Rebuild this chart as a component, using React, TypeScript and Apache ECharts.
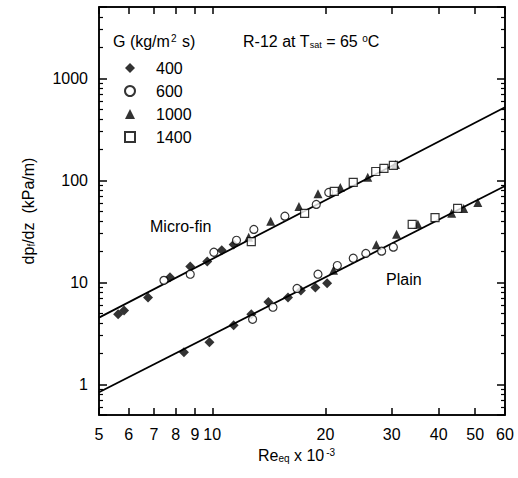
import React, { useEffect, useRef } from "react";
import * as echarts from "echarts";

const FONT = "'Liberation Sans', Arial, Helvetica, sans-serif";

// Micro-fin tube data (Re_eq x 10^-3, dp/dz kPa/m)
const mf400X = [5.62, 5.83, 6.75, 7.72, 8.74, 9.7, 10.6, 11.4];
const mf400Y = [4.86, 5.3, 7.1, 11.2, 14.3, 16.0, 20.6, 23.5];
const mf600X = [7.44, 8.74, 10.1, 11.6, 12.9, 15.6, 18.9, 20.4];
const mf600Y = [10.45, 12.0, 19.7, 25.8, 33, 44.5, 58, 76];
const mf1000X = [12.5, 14.3, 17.0, 19.1, 21.9, 25.9, 30.7];
const mf1000Y = [27.6, 39.6, 55.5, 74, 85, 107, 143];
const mf1400X = [12.7, 17.6, 21.1, 23.7, 27.2, 28.6, 30.3];
const mf1400Y = [25, 47.4, 78, 95.6, 122, 131, 140];

// Plain tube data
const pl400X = [8.41, 9.83, 11.4, 12.7, 14.1, 15.9, 17.2, 18.8, 20.2];
const pl400Y = [2.06, 2.58, 3.79, 4.86, 6.4, 7.1, 8.3, 8.9, 9.8];
const pl600X = [12.8, 14.5, 16.8, 19.1, 21.5, 23.7, 25.6, 28.2, 30.3];
const pl600Y = [4.34, 5.7, 8.7, 12.0, 14.6, 17.2, 19.2, 20.2, 22.1];
const pl1000X = [21.0, 27.3, 30.9, 35.2, 43.3, 46.6, 50.8];
const pl1000Y = [13.1, 23.3, 29.5, 37, 47.5, 53, 60.7];
const pl1400X = [34.0, 39.1, 44.9];
const pl1400Y = [37, 43, 53];

// Correlation lines
const fitX = [5, 60];
const microFinFit = [4.5, 520];
const plainFit = [0.835, 88];

// Tick labels
const xLabels = [5, 6, 7, 8, 9, 10, 20, 30, 40, 50, 60];
const yLabels = [1, 10, 100, 1000];

const groups = ["400", "600", "1000", "1400"];

const X_MIN = 5;
const X_MAX = 60;
const Y_MIN = 0.5;
const Y_MAX = 5000;

const zip = (xs: number[], ys: number[]) => xs.map((x, i) => [x, ys[i]]);

export default function App() {
  const ref = useRef<HTMLDivElement>(null);
  useEffect(() => {
    if (!ref.current) return;
    const chart = echarts.init(ref.current, null, { renderer: "svg" });

    const markerStyles: Record<string, any> = {
      "400": { symbol: "diamond", symbolSize: 10, itemStyle: { color: "#000" } },
      "600": {
        symbol: "circle",
        symbolSize: 8,
        itemStyle: { color: "#fff", borderColor: "#000", borderWidth: 1.2 },
      },
      "1000": { symbol: "triangle", symbolSize: 9, itemStyle: { color: "#000" } },
      "1400": {
        symbol: "rect",
        symbolSize: 8,
        itemStyle: { color: "#fff", borderColor: "#000", borderWidth: 1.2 },
      },
    };

    const mfData: Record<string, number[][]> = {
      "400": zip(mf400X, mf400Y),
      "600": zip(mf600X, mf600Y),
      "1000": zip(mf1000X, mf1000Y),
      "1400": zip(mf1400X, mf1400Y),
    };
    const plData: Record<string, number[][]> = {
      "400": zip(pl400X, pl400Y),
      "600": zip(pl600X, pl600Y),
      "1000": zip(pl1000X, pl1000Y),
      "1400": zip(pl1400X, pl1400Y),
    };

    const scatterSeries: any[] = [];
    groups.forEach((g) => {
      [mfData[g], plData[g]].forEach((d) => {
        scatterSeries.push({
          type: "scatter",
          name: g,
          data: d,
          z: 5,
          ...markerStyles[g],
        });
      });
    });

    const axisLine = { show: true, lineStyle: { color: "#000", width: 1.5 } };

    const makeX = (position: string, showLabels: boolean) => ({
      type: "log",
      logBase: 10,
      min: X_MIN,
      max: X_MAX,
      position,
      splitLine: { show: false },
      minorSplitLine: { show: false },
      axisLine,
      axisTick: {
        show: true,
        inside: true,
        length: 7,
        lineStyle: { color: "#000", width: 1.5 },
      },
      minorTick: {
        show: true,
        splitNumber: 9,
        length: 7,
        lineStyle: { color: "#000", width: 1.5 },
      },
      axisLabel: showLabels
        ? {
            show: true,
            customValues: xLabels,
            formatter: (v: number) => String(v),
            color: "#000",
            fontFamily: FONT,
            fontSize: 16,
            margin: 11,
          }
        : { show: false },
    });

    const makeY = (position: string, showLabels: boolean) => ({
      type: "log",
      logBase: 10,
      min: Y_MIN,
      max: Y_MAX,
      position,
      splitLine: { show: false },
      minorSplitLine: { show: false },
      axisLine,
      axisTick: {
        show: true,
        inside: true,
        length: 8,
        lineStyle: { color: "#000", width: 1.5 },
      },
      minorTick: {
        show: true,
        splitNumber: 9,
        length: 4,
        lineStyle: { color: "#000", width: 1.2 },
      },
      axisLabel: showLabels
        ? {
            show: true,
            customValues: yLabels,
            formatter: (v: number) => String(v),
            color: "#000",
            fontFamily: FONT,
            fontSize: 16,
            margin: 11,
          }
        : { show: false },
    });

    chart.setOption({
      animation: false,
      backgroundColor: "#fff",
      textStyle: { fontFamily: FONT, color: "#000" },
      grid: {
        left: 99,
        right: 13,
        top: 7,
        bottom: 63,
        containLabel: false,
        show: true,
        borderColor: "#000",
        borderWidth: 1.5,
        backgroundColor: "transparent",
      },
      xAxis: [makeX("bottom", true), makeX("top", false)],
      yAxis: [makeY("left", true), makeY("right", false)],
      legend: {
        show: true,
        orient: "vertical",
        left: 119,
        top: 55,
        itemWidth: 10,
        itemHeight: 10,
        itemGap: 7,
        data: groups,
        selectedMode: false,
        textStyle: {
          fontFamily: FONT,
          fontSize: 16,
          color: "#000",
          lineHeight: 16,
          padding: [0, 0, 0, 16],
        },
      },
      graphic: [
        {
          type: "text",
          left: 113,
          top: 33,
          style: {
            text: "{a|G (kg/m}{s|2}{a| s)}",
            rich: {
              a: { fontFamily: FONT, fontSize: 16, fill: "#000" },
              s: { fontFamily: FONT, fontSize: 10, fill: "#000", verticalAlign: "top", padding: [0, 1, 6, 1] },
            },
          },
        },
        {
          type: "text",
          left: 243,
          top: 33,
          style: {
            text: "{a|R-12 at T}{b|sat}{a| = 65 }{s|o}{a|C}",
            rich: {
              a: { fontFamily: FONT, fontSize: 16, fill: "#000" },
              b: { fontFamily: FONT, fontSize: 9, fill: "#000", verticalAlign: "bottom", padding: [6, 0, 0, 0] },
              s: { fontFamily: FONT, fontSize: 10, fill: "#000", verticalAlign: "top", padding: [0, 0, 6, 0] },
            },
          },
        },
        {
          type: "text",
          left: 150,
          top: 218,
          style: { text: "Micro-fin", fontFamily: FONT, fontSize: 16, fill: "#000" },
        },
        {
          type: "text",
          left: 386,
          top: 271,
          style: { text: "Plain", fontFamily: FONT, fontSize: 16, fill: "#000" },
        },
        {
          type: "text",
          left: 258,
          top: 447,
          style: {
            text: "{a|Re}{b|eq}{a| x 10}{s|-3}",
            rich: {
              a: { fontFamily: FONT, fontSize: 16, fill: "#000" },
              b: { fontFamily: FONT, fontSize: 10, fill: "#000", verticalAlign: "bottom", padding: [6, 0, 0, 0] },
              s: { fontFamily: FONT, fontSize: 10, fill: "#000", verticalAlign: "top", padding: [0, 0, 6, 2] },
            },
          },
        },
        {
          type: "text",
          x: 28,
          y: 211,
          rotation: Math.PI / 2,
          style: {
            text: "{a|dp}{b|f}{a|/dz  (kPa/m)}",
            align: "center",
            verticalAlign: "middle",
            rich: {
              a: { fontFamily: FONT, fontSize: 16, fill: "#000" },
              b: { fontFamily: FONT, fontSize: 10, fill: "#000", verticalAlign: "bottom", padding: [6, 0, 0, 0] },
            },
          },
        },
      ],
      series: [
        {
          type: "line",
          name: "Micro-fin fit",
          data: zip(fitX, microFinFit),
          showSymbol: false,
          symbol: "none",
          lineStyle: { color: "#000", width: 1.8 },
          z: 2,
          silent: true,
        },
        {
          type: "line",
          name: "Plain fit",
          data: zip(fitX, plainFit),
          showSymbol: false,
          symbol: "none",
          lineStyle: { color: "#000", width: 1.8 },
          z: 2,
          silent: true,
        },
        ...scatterSeries,
      ],
    });

    return () => chart.dispose();
  }, []);
  return (
    <div
      ref={ref}
      style={{ position: "fixed", left: 0, top: 0, width: 518, height: 478 }}
    />
  );
}
